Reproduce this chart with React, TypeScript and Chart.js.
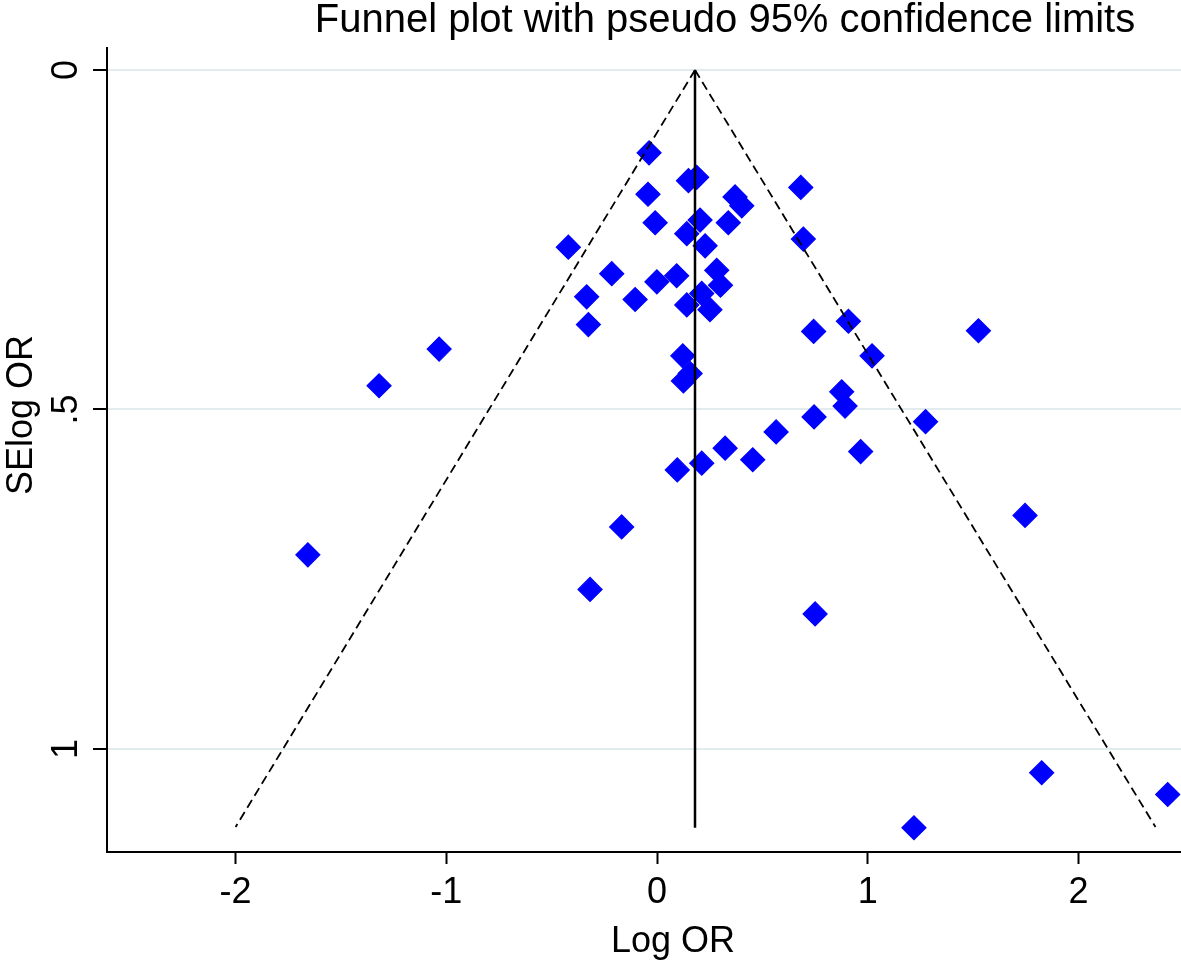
import { useEffect, useRef } from "react";
import { Chart, registerables } from "chart.js";

Chart.register(...registerables);

// Study estimates
const LOG_OR = [
  -0.038, 0.149, 0.188, -0.043, 0.37, 0.402, 0.682, -0.009, 0.204, 0.338,
  0.141, 0.228, -0.421, 0.694, -0.215, 0.093, -0.001, 0.283, 0.301, -0.334,
  -0.104, 0.212, 0.141, 0.251, -0.326, 0.908, 0.743, 1.525, -1.034, 0.122,
  1.02, 0.157, 0.125, -1.319, 0.876, 0.892, 0.745, 1.274, 0.565, 0.323,
  0.966, 0.454, 0.212, 0.096, 1.746, -0.168, -1.657, -0.318, 0.75, 1.825,
  2.423, 1.219,
];
const SE_LOG_OR = [
  0.122, 0.163, 0.158, 0.183, 0.187, 0.2, 0.173, 0.225, 0.221, 0.225,
  0.241, 0.259, 0.261, 0.249, 0.3, 0.303, 0.312, 0.295, 0.317, 0.334,
  0.338, 0.329, 0.346, 0.353, 0.375, 0.37, 0.385, 0.384, 0.411, 0.421,
  0.421, 0.447, 0.458, 0.465, 0.474, 0.495, 0.511, 0.518, 0.533, 0.557,
  0.562, 0.574, 0.579, 0.589, 0.656, 0.673, 0.714, 0.765, 0.801, 1.035,
  1.067, 1.116,
];

// Pooled estimate line and pseudo 95% limits (endpoints)
const POOLED_X = [0.18, 0.18];
const POOLED_Y = [0, 1.116];
const LOWER_LIMIT_X = [0.18, -2.0];
const UPPER_LIMIT_X = [0.18, 2.365];
const LIMIT_Y = [0, 1.115];

const X_TICKS = [-2, -1, 0, 1, 2];
const Y_TICKS = [0, 0.5, 1];
const Y_TICK_LABELS = ["0", ".5", "1"];

const TITLE = "Funnel plot with pseudo 95% confidence limits";
const X_TITLE = "Log OR";
const Y_TITLE = "SElog OR";

const FONT = '"Liberation Sans", Arial, sans-serif';

const toPoints = (xs: number[], ys: number[]) => xs.map((x, i) => ({ x, y: ys[i] }));

const textPlugin = {
  id: "stataText",
  afterDraw(chart: any) {
    const ctx = chart.ctx as CanvasRenderingContext2D;
    const yScale = chart.scales.y;
    ctx.save();
    ctx.fillStyle = "#000";
    ctx.textAlign = "center";
    ctx.textBaseline = "alphabetic";
    ctx.font = `36px ${FONT}`;
    Y_TICKS.forEach((v, i) => {
      const py = yScale.getPixelForValue(v);
      ctx.save();
      ctx.translate(77, py);
      ctx.rotate(-Math.PI / 2);
      ctx.fillText(Y_TICK_LABELS[i], 0, 0);
      ctx.restore();
    });
    ctx.save();
    ctx.translate(32, 415);
    ctx.rotate(-Math.PI / 2);
    ctx.fillText(Y_TITLE, 0, 0);
    ctx.restore();
    ctx.fillText(X_TITLE, 673, 952);
    ctx.font = `40px ${FONT}`;
    ctx.fillText(TITLE, 725, 32);
    ctx.restore();
  },
};

export default function App() {
  const ref = useRef<HTMLCanvasElement>(null);

  useEffect(() => {
    if (!ref.current) return;
    const chart = new Chart(ref.current, {
      type: "scatter",
      data: {
        datasets: [
          {
            label: "pooled",
            data: toPoints(POOLED_X, POOLED_Y),
            showLine: true,
            borderColor: "#000",
            borderWidth: 2.5,
            pointRadius: 0,
            order: 0,
          },
          {
            label: "lower",
            data: toPoints(LOWER_LIMIT_X, LIMIT_Y),
            showLine: true,
            borderColor: "#000",
            borderWidth: 1.8,
            borderDash: [9, 5],
            pointRadius: 0,
            order: 0,
          },
          {
            label: "upper",
            data: toPoints(UPPER_LIMIT_X, LIMIT_Y),
            showLine: true,
            borderColor: "#000",
            borderWidth: 1.8,
            borderDash: [9, 5],
            pointRadius: 0,
            order: 0,
          },
          {
            label: "studies",
            data: toPoints(LOG_OR, SE_LOG_OR),
            pointStyle: "rectRot",
            pointRadius: 12,
            backgroundColor: "#0000ff",
            borderColor: "#0000ff",
            borderWidth: 1.2,
            order: 1,
          },
        ],
      },
      options: {
        responsive: false,
        animation: false,
        devicePixelRatio: 1,
        events: [],
        layout: { autoPadding: false, padding: { top: 48, left: 0, right: 0, bottom: 0 } },
        plugins: {
          legend: { display: false },
          title: { display: false },
          tooltip: { enabled: false },
        },
        scales: {
          x: {
            type: "linear",
            position: "bottom",
            min: -2.61,
            max: 2.486,
            afterBuildTicks: (s: any) => {
              s.ticks = X_TICKS.map((v) => ({ value: v }));
            },
            afterFit: (s: any) => {
              s.height = 109;
            },
            grid: {
              drawOnChartArea: false,
              drawTicks: true,
              tickLength: 12,
              tickColor: "#000",
              tickWidth: 2,
              color: "#000",
            },
            border: { display: true, color: "#000", width: 2 },
            ticks: {
              font: { family: FONT, size: 36 },
              color: "#000",
              padding: 7,
              maxRotation: 0,
              minRotation: 0,
              autoSkip: false,
              callback: (v: any) => String(v),
            },
          },
          y: {
            type: "linear",
            reverse: true,
            min: -0.0324,
            max: 1.1517,
            afterBuildTicks: (s: any) => {
              s.ticks = Y_TICKS.map((v) => ({ value: v }));
            },
            afterFit: (s: any) => {
              s.width = 107;
            },
            grid: {
              color: "#e2ecef",
              lineWidth: 2,
              drawTicks: true,
              tickLength: 14,
              tickColor: "#000",
              tickWidth: 2,
            },
            border: { display: true, color: "#000", width: 2 },
            ticks: { display: false },
          },
        },
      },
      plugins: [textPlugin],
    } as any);
    return () => chart.destroy();
  }, []);

  return (
    <div
      style={{
        position: "fixed",
        left: 0,
        top: 0,
        width: 1181,
        height: 961,
        background: "#fff",
      }}
    >
      <canvas
        ref={ref}
        width={1181}
        height={961}
        style={{ display: "block", width: 1181, height: 961 }}
      />
    </div>
  );
}
